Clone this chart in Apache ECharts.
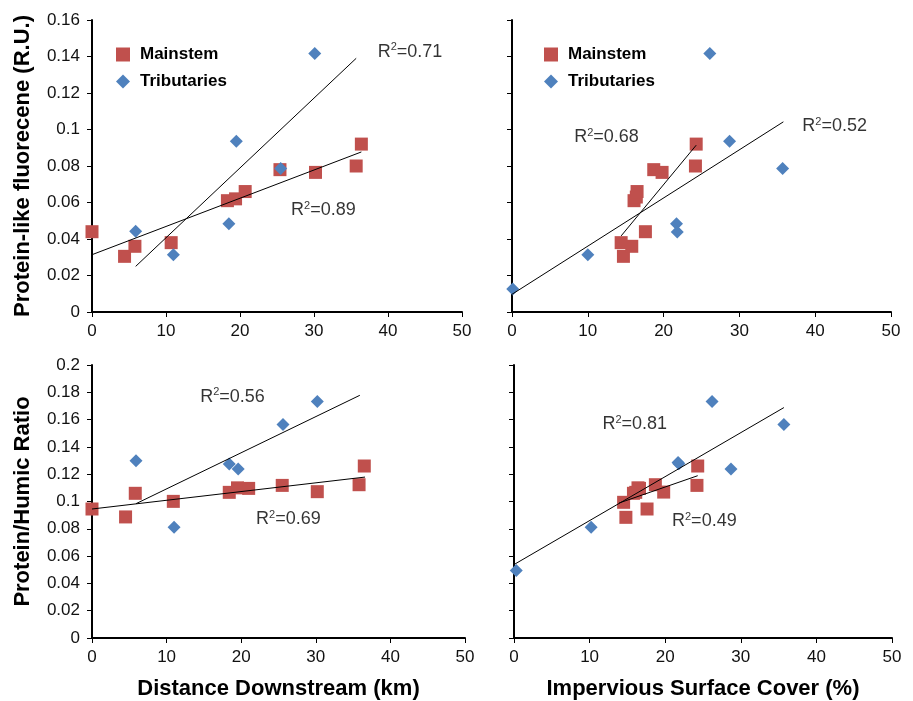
<!DOCTYPE html>
<html>
<head>
<meta charset="utf-8">
<script src="https://cdn.jsdelivr.net/npm/echarts@6/dist/echarts.min.js"></script>
<style>
  html, body { margin: 0; padding: 0; background: #fff; }
  #chart { width: 913px; height: 701px; }
</style>
</head>
<body>
<div id="chart"></div>
<script>
// panel A: distance downstream vs protein-like fluorescence
var aMainX = [0, 4.4, 5.8, 10.7, 18.3, 19.4, 20.7, 25.4, 30.2, 35.7, 36.4];
var aMainY = [0.044, 0.0305, 0.036, 0.038, 0.061, 0.062, 0.066, 0.078, 0.0765, 0.080, 0.092];
var aTribX = [5.9, 11.0, 18.5, 19.5, 25.5, 30.1];
var aTribY = [0.0442, 0.0314, 0.0483, 0.0936, 0.0786, 0.1417];
var aMainFit = [[0, 0.0314], [36.4, 0.0877]];
var aTribFit = [[5.9, 0.025], [35.7, 0.139]];
var aR2 = [[38.6, 0.1425, '0.71'], [26.9, 0.0559, '0.89']];

// panel B: impervious surface vs protein-like fluorescence
var bMainX = [17.6, 14.7, 15.8, 14.4, 16.1, 16.4, 16.5, 18.7, 19.8, 24.2, 24.3];
var bMainY = [0.044, 0.0305, 0.036, 0.038, 0.061, 0.063, 0.066, 0.078, 0.0765, 0.080, 0.092];
var bTribX = [0.1, 10.0, 21.7, 21.8, 26.1, 28.7, 35.7];
var bTribY = [0.0126, 0.0314, 0.0484, 0.0439, 0.1417, 0.0936, 0.0786];
var bMainFit = [[14.4, 0.0417], [24.3, 0.0914]];
var bTribFit = [[0, 0.0097], [35.8, 0.1042]];
var bR2 = [[8.2, 0.0959, '0.68'], [38.3, 0.1019, '0.52']];

// panel C: distance downstream vs protein/humic ratio
var cMainX = [0, 4.5, 5.8, 10.9, 18.4, 19.5, 21.0, 25.5, 30.2, 35.8, 36.5];
var cMainY = [0.0945, 0.0887, 0.106, 0.1001, 0.1067, 0.110, 0.1096, 0.1118, 0.1072, 0.1123, 0.126];
var cTribX = [5.9, 11.0, 18.4, 19.6, 25.6, 30.2];
var cTribY = [0.1298, 0.0811, 0.1274, 0.1238, 0.1564, 0.1732];
var cMainFit = [[0, 0.0945], [36.6, 0.1179]];
var cTribFit = [[5.9, 0.0984], [35.9, 0.1778]];
var cR2 = [[14.5, 0.1768, '0.56'], [22.0, 0.087, '0.69']];

// panel D: impervious surface vs protein/humic ratio
var dMainX = [17.6, 14.8, 15.8, 14.5, 16.1, 16.4, 16.6, 18.7, 19.8, 24.2, 24.3];
var dMainY = [0.0945, 0.0884, 0.106, 0.0994, 0.1067, 0.110, 0.1096, 0.1123, 0.1069, 0.1118, 0.126];
var dTribX = [0.3, 10.2, 21.7, 21.8, 26.2, 28.7, 35.7];
var dTribY = [0.0495, 0.0811, 0.1286, 0.1276, 0.1732, 0.1238, 0.1564];
var dMainFit = [[13.9, 0.0989], [24.3, 0.1189]];
var dTribFit = [[0, 0.0538], [35.7, 0.1688]];
var dR2 = [[11.7, 0.1564, '0.81'], [20.9, 0.0855, '0.49']];

var FONT = "'Liberation Sans', Arial, Helvetica, sans-serif";
var RED = '#C0504D';
var BLUE = '#4F81BD';

function zip (xs, ys) {
  var out = [];
  for (var i = 0; i < xs.length; i++) out.push([xs[i], ys[i]]);
  return out;
}

function xAxisFor (idx, name) {
  return {
    type: 'value', gridIndex: idx, min: 0, max: 50, interval: 10,
    name: name, nameLocation: 'middle', nameGap: 40,
    nameTextStyle: { fontFamily: FONT, fontSize: 22, fontWeight: 'bold', color: '#000' },
    axisLine: { show: true, onZero: false, lineStyle: { color: '#000', width: 2 } },
    axisTick: { show: true, length: 5, lineStyle: { color: '#000', width: 1 } },
    axisLabel: { margin: 11, fontFamily: FONT, fontSize: 17, color: '#111' },
    splitLine: { show: false }
  };
}

function yAxisFor (idx, max, name, showLabel) {
  return {
    type: 'value', gridIndex: idx, min: 0, max: max, interval: 0.02,
    name: name, nameLocation: 'middle', nameGap: 58,
    nameTextStyle: { fontFamily: FONT, fontSize: 22, fontWeight: 'bold', color: '#000' },
    axisLine: { show: true, onZero: false, lineStyle: { color: '#000', width: 2 } },
    axisTick: { show: true, length: 5, lineStyle: { color: '#000', width: 1 } },
    axisLabel: {
      show: showLabel, margin: 12, fontFamily: FONT, fontSize: 17, color: '#111',
      formatter: function (v) { return String(+v.toFixed(2)); }
    },
    splitLine: { show: false }
  };
}

function panelSeries (idx, mainX, mainY, tribX, tribY, mainFit, tribFit, r2) {
  return [{
    name: 'Mainstem', type: 'scatter', xAxisIndex: idx, yAxisIndex: idx,
    symbol: 'rect', symbolSize: 13, z: 2,
    itemStyle: { color: RED, opacity: 1 },
    data: zip(mainX, mainY)
  }, {
    name: 'Tributaries', type: 'scatter', xAxisIndex: idx, yAxisIndex: idx,
    symbol: 'diamond', symbolSize: 13, z: 2,
    itemStyle: { color: BLUE, opacity: 1 },
    data: zip(tribX, tribY)
  }, {
    name: 'fitMain' + idx, type: 'line', xAxisIndex: idx, yAxisIndex: idx,
    showSymbol: false, symbol: 'none', z: 3, silent: true,
    lineStyle: { color: '#000', width: 1 },
    data: mainFit
  }, {
    name: 'fitTrib' + idx, type: 'line', xAxisIndex: idx, yAxisIndex: idx,
    showSymbol: false, symbol: 'none', z: 3, silent: true,
    lineStyle: { color: '#000', width: 1 },
    data: tribFit
  }, {
    name: 'r2' + idx, type: 'scatter', xAxisIndex: idx, yAxisIndex: idx,
    symbolSize: 0, z: 4, silent: true,
    data: r2,
    label: {
      show: true, position: 'right', distance: 0,
      formatter: function (p) { return '{r|R}{s|2}{r|=' + p.value[2] + '}'; },
      rich: {
        r: { fontFamily: FONT, fontSize: 18, color: '#000', lineHeight: 20 },
        s: { fontFamily: FONT, fontSize: 11, color: '#000', verticalAlign: 'top', lineHeight: 12 }
      }
    }
  }];
}

function legendAt (left) {
  return {
    orient: 'vertical', left: left, top: 41,
    itemWidth: 14, itemHeight: 14, itemGap: 10,
    textStyle: { fontFamily: FONT, fontSize: 17, fontWeight: 'bold', color: '#000', padding: [0, 0, 0, 5] },
    data: [{ name: 'Mainstem', icon: 'rect' }, { name: 'Tributaries', icon: 'diamond' }]
  };
}

var option = {
  backgroundColor: '#fff',
  animation: false,
  legend: [legendAt(111), legendAt(539)],
  grid: [
    { left: 92, top: 20, width: 370, height: 292 },
    { left: 512, top: 20, width: 379, height: 292 },
    { left: 92, top: 365, width: 373, height: 274 },
    { left: 514, top: 365, width: 378, height: 274 }
  ],
  xAxis: [
    xAxisFor(0, ''),
    xAxisFor(1, ''),
    xAxisFor(2, 'Distance Downstream (km)'),
    xAxisFor(3, 'Impervious Surface Cover (%)')
  ],
  yAxis: [
    yAxisFor(0, 0.16, 'Protein-like fluorecene (R.U.)', true),
    yAxisFor(1, 0.16, '', false),
    yAxisFor(2, 0.2, 'Protein/Humic Ratio', true),
    yAxisFor(3, 0.2, '', false)
  ],
  series: [].concat(
    panelSeries(0, aMainX, aMainY, aTribX, aTribY, aMainFit, aTribFit, aR2),
    panelSeries(1, bMainX, bMainY, bTribX, bTribY, bMainFit, bTribFit, bR2),
    panelSeries(2, cMainX, cMainY, cTribX, cTribY, cMainFit, cTribFit, cR2),
    panelSeries(3, dMainX, dMainY, dTribX, dTribY, dMainFit, dTribFit, dR2)
  )
};

var myChart = echarts.init(document.getElementById('chart'), null, { renderer: 'canvas' });
myChart.setOption(option);
</script>
</body>
</html>
